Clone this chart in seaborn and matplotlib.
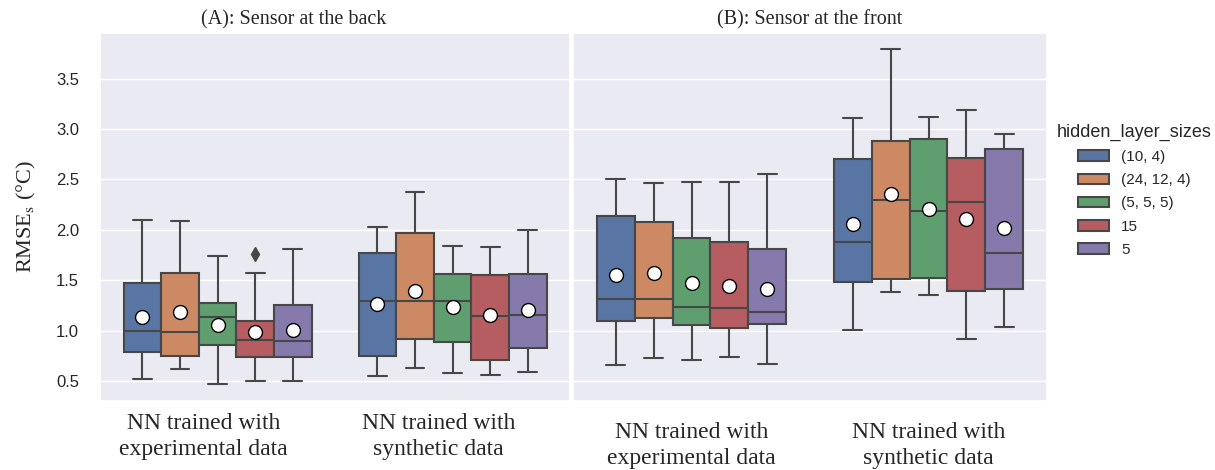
import pandas as pd
import seaborn as sns
import matplotlib
matplotlib.use('Agg')
import matplotlib.pyplot as plt
from matplotlib.transforms import ScaledTranslation

sns.set_theme(style='darkgrid')
plt.rcParams['font.family'] = ['Liberation Sans', 'DejaVu Sans']
plt.rcParams['mathtext.fontset'] = 'stix'

hidden_sizes = ['(10, 4)', '(24, 12, 4)', '(5, 5, 5)', '15', '5']
training = ['NN trained with\nexperimental data', 'NN trained with\nsynthetic data']
panel_titles = ['(A): Sensor at the back', '(B): Sensor at the front']

# box statistics: rows = training set, cols = hidden_layer_sizes
back_low = [[0.52, 0.62, 0.47, 0.50, 0.50], [0.55, 0.63, 0.58, 0.56, 0.59]]
back_q1 = [[0.79, 0.75, 0.86, 0.74, 0.74], [0.75, 0.92, 0.89, 0.71, 0.83]]
back_med = [[1.00, 0.99, 1.13, 0.91, 0.90], [1.29, 1.29, 1.29, 1.14, 1.15]]
back_q3 = [[1.47, 1.57, 1.27, 1.09, 1.25], [1.77, 1.97, 1.56, 1.55, 1.56]]
back_high = [[2.10, 2.09, 1.74, 1.57, 1.81], [2.03, 2.38, 1.84, 1.83, 2.00]]
back_fliers = [[[], [], [], [1.76], []], [[], [], [], [], []]]
back_mean = [[1.13, 1.18, 1.06, 0.99, 1.01], [1.26, 1.39, 1.23, 1.15, 1.20]]

front_low = [[0.66, 0.73, 0.71, 0.74, 0.67], [1.01, 1.38, 1.35, 0.92, 1.04]]
front_q1 = [[1.09, 1.12, 1.06, 1.03, 1.07], [1.48, 1.51, 1.52, 1.39, 1.41]]
front_med = [[1.31, 1.31, 1.23, 1.22, 1.18], [1.88, 2.30, 2.19, 2.28, 1.77]]
front_q3 = [[2.14, 2.08, 1.92, 1.88, 1.81], [2.70, 2.88, 2.90, 2.71, 2.80]]
front_high = [[2.50, 2.46, 2.47, 2.47, 2.55], [3.11, 3.79, 3.12, 3.19, 2.95]]
front_fliers = [[[], [], [], [], []], [[], [], [], [], []]]
front_mean = [[1.55, 1.57, 1.47, 1.44, 1.41], [2.06, 2.36, 2.21, 2.11, 2.02]]


def box_frame(low, q1, med, q3, high, fliers):
    # values whose quartiles / whisker ends reproduce the read statistics
    rows = []
    for i, grp in enumerate(training):
        for j, hs in enumerate(hidden_sizes):
            vals = [low[i][j], q1[i][j], q1[i][j], med[i][j], med[i][j],
                    q3[i][j], q3[i][j], high[i][j]] + fliers[i][j]
            for v in vals:
                rows.append({'training': grp, 'hidden_layer_sizes': hs, 'rmse': v})
    return pd.DataFrame(rows)


def mean_frame(means):
    rows = []
    for i, grp in enumerate(training):
        for j, hs in enumerate(hidden_sizes):
            rows.append({'training': grp, 'hidden_layer_sizes': hs, 'rmse': means[i][j]})
    return pd.DataFrame(rows)


panels = [
    (box_frame(back_low, back_q1, back_med, back_q3, back_high, back_fliers), mean_frame(back_mean)),
    (box_frame(front_low, front_q1, front_med, front_q3, front_high, front_fliers), mean_frame(front_mean)),
]

line_col = '#474747'
fig, axes = plt.subplots(1, 2, figsize=(12.15, 4.7), dpi=100, sharey=True)
for k, (ax, (box_df, mean_df)) in enumerate(zip(axes, panels)):
    sns.boxplot(data=box_df, x='training', y='rmse', hue='hidden_layer_sizes',
                order=training, hue_order=hidden_sizes, palette='deep',
                linecolor=line_col, linewidth=1.5, legend=(k == 1),
                flierprops=dict(marker='d', markersize=7, markerfacecolor=line_col,
                                markeredgecolor=line_col), ax=ax)
    sns.stripplot(data=mean_df, x='training', y='rmse', hue='hidden_layer_sizes',
                  order=training, hue_order=hidden_sizes, palette=['white'] * 5,
                  dodge=True, jitter=False, size=10, edgecolor='black', linewidth=1,
                  legend=False, zorder=5, ax=ax)
    ax.set_xticks(range(len(training)))
    ax.set_xticklabels(training, fontfamily='Liberation Serif', fontsize=17, linespacing=1.35)
    ax.tick_params(axis='x', pad=4)
    ax.tick_params(axis='y', labelsize=12, pad=9)
    ax.set_xlabel('')
    ax.set_title(panel_titles[k], fontfamily='Liberation Serif', fontsize=14.5)

axes[0].title.set_x(0.413)
axes[0].set_ylabel('RMSE$_\\mathrm{s}$ (°C)', fontfamily='Liberation Serif', fontsize=16,
                   labelpad=13)
axes[1].set_ylabel('')

axes[0].set_position([100 / 1215, 1 - 400.7 / 470, 470 / 1215, 368 / 470])
axes[1].set_position([573 / 1215, 1 - 400.7 / 470, 474 / 1215, 368 / 470])

# label offsets seen in the original layout
for lab in axes[0].get_xticklabels():
    lab.set_transform(lab.get_transform() + ScaledTranslation(-0.14, 0.02, fig.dpi_scale_trans))
for lab in axes[1].get_xticklabels():
    lab.set_transform(lab.get_transform() + ScaledTranslation(0, -0.07, fig.dpi_scale_trans))

sns.move_legend(axes[1], 'upper left', bbox_to_anchor=(0.992, 0.79), frameon=False,
                title='hidden_layer_sizes', title_fontsize=13, labelspacing=0.6)

plt.savefig('out.png', dpi=100)
plt.close()
